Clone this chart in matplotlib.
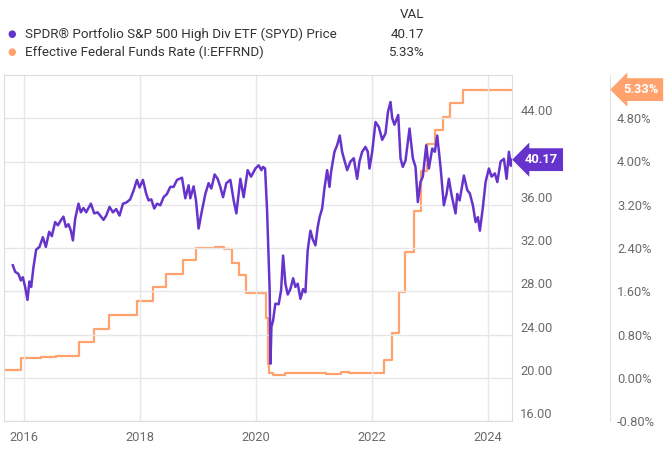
import matplotlib
matplotlib.use("Agg")
import matplotlib.pyplot as plt
from matplotlib.transforms import blended_transform_factory

plt.rcParams['font.family'] = ['Roboto', 'DejaVu Sans']

# SPYD weekly-ish closes (decimal years)
spyd_t = [2015.812, 2015.852, 2015.909, 2015.950, 2015.984, 2016.024, 2016.064, 2016.098,
          2016.128, 2016.167, 2016.214, 2016.271, 2016.329, 2016.381, 2016.438, 2016.484,
          2016.541, 2016.588, 2016.645, 2016.684, 2016.726, 2016.771, 2016.812, 2016.847,
          2016.886, 2016.943, 2016.984, 2017.029, 2017.076, 2017.105, 2017.157, 2017.214,
          2017.271, 2017.317, 2017.374, 2017.421, 2017.478, 2017.536, 2017.593, 2017.650,
          2017.709, 2017.766, 2017.834, 2017.891, 2017.950, 2017.995, 2018.053, 2018.110,
          2018.150, 2018.197, 2018.248, 2018.295, 2018.352, 2018.409, 2018.467, 2018.524,
          2018.581, 2018.640, 2018.726, 2018.783, 2018.840, 2018.869, 2018.926, 2018.967,
          2019.012, 2019.071, 2019.128, 2019.184, 2019.231, 2019.288, 2019.340, 2019.386,
          2019.433, 2019.490, 2019.559, 2019.616, 2019.662, 2019.731, 2019.788, 2019.857,
          2019.916, 2019.990, 2020.047, 2020.093, 2020.122, 2020.157, 2020.191, 2020.236,
          2020.250, 2020.266, 2020.295, 2020.334, 2020.391, 2020.433, 2020.467, 2020.507,
          2020.547, 2020.593, 2020.640, 2020.679, 2020.719, 2020.766, 2020.812, 2020.852,
          2020.891, 2020.938, 2020.978, 2021.024, 2021.064, 2021.098, 2021.140, 2021.179,
          2021.226, 2021.266, 2021.295, 2021.352, 2021.398, 2021.443, 2021.484, 2021.524,
          2021.571, 2021.628, 2021.684, 2021.743, 2021.783, 2021.829, 2021.886, 2021.926,
          2021.955, 2022.002, 2022.059, 2022.116, 2022.174, 2022.231, 2022.274, 2022.317,
          2022.347, 2022.386, 2022.450, 2022.490, 2022.529, 2022.576, 2022.645, 2022.702,
          2022.748, 2022.788, 2022.834, 2022.874, 2022.933, 2022.978, 2023.036, 2023.081,
          2023.122, 2023.179, 2023.236, 2023.283, 2023.322, 2023.369, 2023.438, 2023.467,
          2023.508, 2023.581, 2023.640, 2023.683, 2023.736, 2023.783, 2023.822, 2023.857,
          2023.909, 2023.955, 2024.012, 2024.059, 2024.115, 2024.157, 2024.214, 2024.271,
          2024.317, 2024.357, 2024.390, 2024.403]
spyd_px = [30.4, 29.8, 29.6, 29.0, 29.3, 28.4, 27.2, 28.9,
           28.4, 30.2, 31.85, 32.1, 33.0, 32.1, 33.5, 33.1,
           34.4, 34.1, 34.6, 34.9, 33.95, 34.2, 33.6, 32.7,
           34.7, 36.1, 35.3, 35.7, 35.3, 35.6, 36.1, 35.2,
           35.3, 35.0, 34.6, 35.0, 35.8, 35.3, 35.6, 35.0,
           36.1, 36.2, 36.5, 37.3, 38.3, 37.6, 38.3, 37.0,
           36.4, 36.5, 35.65, 36.1, 35.95, 36.7, 37.0, 37.65,
           37.65, 38.3, 38.5, 36.6, 37.8, 36.6, 37.7, 36.4,
           33.8, 35.5, 37.0, 38.0, 37.5, 38.8, 38.4, 37.65,
           36.7, 38.0, 38.3, 36.4, 35.2, 38.4, 36.7, 39.2,
           38.6, 39.35, 39.65, 39.2, 39.5, 39.35, 35.5, 28.1,
           21.3, 24.7, 25.3, 26.85, 26.8, 28.1, 31.3, 28.7,
           27.7, 28.2, 29.2, 28.4, 28.7, 27.3, 28.2, 27.9,
           31.8, 33.6, 32.8, 32.25, 33.95, 34.9, 35.65, 37.5,
           39.2, 37.65, 39.1, 40.9, 41.5, 42.4, 40.9, 40.1,
           39.2, 40.0, 40.3, 38.4, 40.0, 40.9, 41.35, 40.9,
           39.35, 40.9, 43.65, 43.2, 42.0, 42.6, 44.6, 45.5,
           44.0, 43.4, 44.3, 40.3, 39.5, 40.1, 43.05, 40.3,
           39.5, 36.25, 38.1, 38.6, 41.5, 39.35, 41.2, 40.9,
           42.4, 39.5, 35.95, 37.0, 38.4, 36.9, 35.2, 37.0,
           36.4, 38.7, 37.35, 37.05, 35.95, 34.4, 34.85, 33.6,
           35.8, 38.1, 39.35, 38.6, 38.9, 38.1, 40.0, 40.25,
           38.4, 40.9, 39.6, 40.17]

# Effective fed funds rate (%), step changes
fed_t = [2015.66, 2015.96, 2016.30, 2016.55, 2016.96, 2017.21, 2017.46, 2017.95, 2018.22,
         2018.45, 2018.74, 2018.97, 2019.30, 2019.45, 2019.59, 2019.71, 2019.83, 2020.17,
         2020.20, 2020.23, 2020.30, 2020.50, 2021.20, 2021.47, 2021.60, 2022.21, 2022.34,
         2022.46, 2022.57, 2022.72, 2022.84, 2022.95, 2023.09, 2023.22, 2023.34, 2023.57,
         2024.41]
fed_rate = [0.14, 0.37, 0.38, 0.40, 0.66, 0.91, 1.16, 1.42, 1.68,
            1.91, 2.18, 2.40, 2.42, 2.38, 2.13, 1.90, 1.57, 1.10,
            0.25, 0.09, 0.05, 0.09, 0.07, 0.10, 0.08, 0.33, 0.83,
            1.58, 2.33, 3.08, 3.83, 4.33, 4.58, 4.83, 5.08, 5.33,
            5.33]

year_ticks = [2016, 2018, 2020, 2022, 2024]
price_ticks = [16, 20, 24, 28, 32, 36, 40, 44]
rate_ticks = [-0.8, 0.0, 0.8, 1.6, 2.4, 3.2, 4.0, 4.8]

purple = '#6634cc'
orange = '#ffa26d'
grid_c = '#e6e6e6'
tick_c = '#6b6b6b'

fig = plt.figure(figsize=(6.72, 4.54), dpi=100)
ax = fig.add_axes([4 / 672, 33 / 454, 508 / 672, 346 / 454])
ax2 = ax.twinx()

ax.set_xlim(2015.66, 2024.41)
ax.set_ylim(16, 48)
ax2.set_ylim(-0.8, 5.6)

ax.set_xticks(year_ticks)
ax.set_xticklabels([str(y) for y in year_ticks])
ax.set_yticks(price_ticks)
# the 40.00 label sits under the value flag, so it is not shown
ax.set_yticklabels(['' if p == 40 else '%.2f' % p for p in price_ticks])
ax2.set_yticks(rate_ticks)
ax2.set_yticklabels(['%.2f%%' % r for r in rate_ticks])

ax.yaxis.tick_right()
ax.grid(True, color=grid_c, lw=1)
ax.set_axisbelow(True)
ax.tick_params(axis='both', length=0, colors=tick_c, labelsize=9.3)
ax.tick_params(axis='x', pad=7)
ax.tick_params(axis='y', pad=6)
ax2.tick_params(axis='y', length=0, colors=tick_c, labelsize=9.3, pad=5)
plt.setp(ax.get_yticklabels(), va='bottom')
plt.setp(ax2.get_yticklabels(), va='bottom')

for s in ax.spines.values():
    s.set_color('#dcdcdc')
for name in ['top', 'left', 'bottom']:
    ax2.spines[name].set_visible(False)
ax2.spines['right'].set_position(('outward', 98 * 72 / 100))
ax2.spines['right'].set_color('#e3e3e3')

ax2.plot(fed_t, fed_rate, color=orange, lw=1.6, drawstyle='steps-post', zorder=2)
ax.plot(spyd_t, spyd_px, color=purple, lw=1.8, zorder=3)
ax.set_zorder(ax2.get_zorder() + 1)
ax.patch.set_visible(False)

# value flags
tr = blended_transform_factory(fig.transFigure, ax.transData)
ax.text(525 / 672, spyd_px[-1], '40.17', transform=tr, ha='left', va='center',
        color='white', fontsize=9.3, fontweight='bold', clip_on=False,
        bbox=dict(boxstyle='larrow,pad=0.38', fc=purple, ec='none'))
tr2 = blended_transform_factory(fig.transFigure, ax2.transData)
ax2.text(623 / 672, fed_rate[-1], '5.33%', transform=tr2, ha='left', va='center',
         color='white', fontsize=9.3, fontweight='bold', clip_on=False,
         bbox=dict(boxstyle='larrow,pad=0.38', fc=orange, ec='none'))

# legend header
fig.text(424 / 672, 1 - 14 / 454, 'VAL', ha='right', va='center', fontsize=9.6, color='#333333')
rows = [('SPDR® Portfolio S&P 500 High Div ETF (SPYD) Price', '40.17', purple, 34),
        ('Effective Federal Funds Rate (I:EFFRND)', '5.33%', orange, 52)]
for label, val, col, ypx in rows:
    y = 1 - ypx / 454
    fig.text(12 / 672, y, '●', ha='center', va='center', fontsize=7, color=col)
    fig.text(25 / 672, y, label, ha='left', va='center', fontsize=9.6, color='#333333')
    fig.text(424 / 672, y, val, ha='right', va='center', fontsize=9.6, color='#333333')

fig.savefig('out.png', dpi=100)
